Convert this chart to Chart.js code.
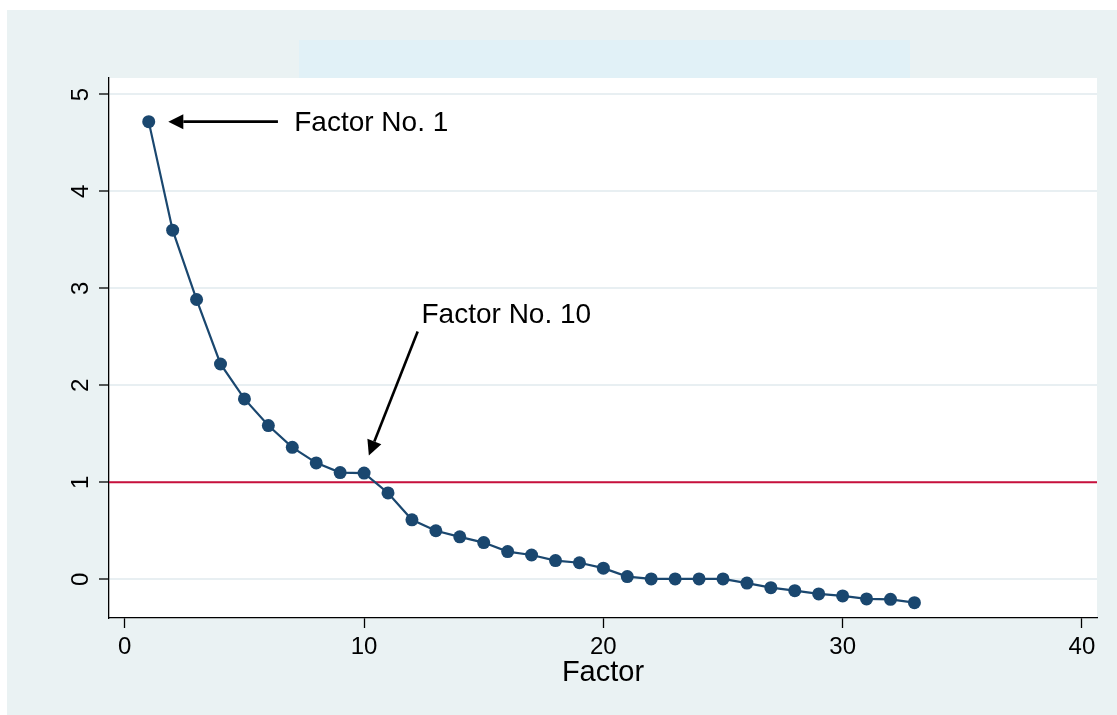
<!DOCTYPE html>
<html>
<head>
<meta charset="utf-8">
<title>Scree plot</title>
<script src="https://cdn.jsdelivr.net/npm/chart.js@4.4.1/dist/chart.umd.min.js"></script>
<style>
  html, body { margin:0; padding:0; background:#fff; }
  #wrap { width:1117px; height:715px; }
</style>
</head>
<body>
<div id="wrap"><canvas id="scree" width="1117" height="715"></canvas></div>
<script>
// values
const factors = [1,2,3,4,5,6,7,8,9,10,11,12,13,14,15,16,17,18,19,20,21,22,23,24,25,26,27,28,29,30,31,32,33];
const eigenvalues = [4.72,3.60,2.885,2.22,1.86,1.585,1.36,1.20,1.10,1.095,0.89,0.613,0.50,0.437,0.378,0.285,0.25,0.192,0.17,0.114,0.027,0.003,0.003,0.003,0.003,-0.04,-0.087,-0.118,-0.152,-0.172,-0.203,-0.207,-0.242];
const xTicks = [0,10,20,30,40];
const yTicks = [0,1,2,3,4,5];
const refLine = 1;
const xTitle = 'Factor';

// arrows + labels, in data units
const notes = [
  { text:'Factor No. 1',  tx:7.08, ty:4.625, from:[6.4,4.72],   to:[1.82,4.72] },
  { text:'Factor No. 10', tx:12.4, ty:2.64,  from:[12.24,2.555], to:[10.2,1.277] }
];

const FONT = '"Liberation Sans", Arial, Helvetica, sans-serif';
const NAVY = '#1a476f';

const backdrop = {
  id:'backdrop',
  beforeDraw(chart){
    const {ctx, chartArea:a} = chart;
    ctx.save();
    ctx.fillStyle = '#eaf2f3';
    ctx.fillRect(7, 10, 1110, 705);
    ctx.fillStyle = '#e1f1f7';   // empty title box
    ctx.fillRect(299, 40, 611, 39);
    ctx.fillStyle = '#fff';
    ctx.fillRect(a.left, a.top, a.right - a.left, a.bottom - a.top);
    ctx.restore();
  }
};

const extras = {
  id:'extras',
  beforeDatasetsDraw(chart){
    const {ctx, chartArea:a, scales:{y}} = chart;
    const py = y.getPixelForValue(refLine);
    ctx.save();
    ctx.strokeStyle = '#c8103c';
    ctx.lineWidth = 2;
    ctx.beginPath(); ctx.moveTo(a.left, py); ctx.lineTo(a.right, py); ctx.stroke();
    ctx.restore();
  },
  afterDraw(chart){
    const {ctx, scales:{x, y}} = chart;
    ctx.save();
    // rotated y tick labels
    ctx.fillStyle = '#000';
    ctx.font = '24px ' + FONT;
    ctx.textAlign = 'center';
    ctx.textBaseline = 'middle';
    yTicks.forEach(v=>{
      ctx.save();
      ctx.translate(81, y.getPixelForValue(v));
      ctx.rotate(-Math.PI/2);
      ctx.fillText(String(v), 0, 0);
      ctx.restore();
    });
    // annotations
    notes.forEach(n=>{
      const x1 = x.getPixelForValue(n.from[0]), y1 = y.getPixelForValue(n.from[1]);
      const x2 = x.getPixelForValue(n.to[0]),   y2 = y.getPixelForValue(n.to[1]);
      const ang = Math.atan2(y2 - y1, x2 - x1);
      const head = 15, half = 7.5;
      const bx = x2 - head*Math.cos(ang), by = y2 - head*Math.sin(ang);
      ctx.strokeStyle = '#000'; ctx.lineWidth = 2.6;
      ctx.beginPath(); ctx.moveTo(x1, y1); ctx.lineTo(bx, by); ctx.stroke();
      ctx.fillStyle = '#000';
      ctx.beginPath();
      ctx.moveTo(x2, y2);
      ctx.lineTo(bx + half*Math.sin(ang), by - half*Math.cos(ang));
      ctx.lineTo(bx - half*Math.sin(ang), by + half*Math.cos(ang));
      ctx.closePath(); ctx.fill();
      ctx.font = '28px ' + FONT;
      ctx.textAlign = 'left';
      ctx.textBaseline = 'alphabetic';
      ctx.fillText(n.text, x.getPixelForValue(n.tx), y.getPixelForValue(n.ty));
    });
    ctx.restore();
  }
};

new Chart(document.getElementById('scree'), {
  type:'scatter',
  data:{
    datasets:[{
      label:'Eigenvalues',
      data: factors.map((f,i)=>({x:f, y:eigenvalues[i]})),
      showLine:true,
      borderColor:NAVY,
      borderWidth:2.2,
      backgroundColor:NAVY,
      pointRadius:6.5,
      pointBorderWidth:0,
      pointHoverRadius:6.5,
      tension:0
    }]
  },
  options:{
    responsive:false,
    animation:false,
    layout:{ padding:{ left:0, top:78, right:20, bottom:0 } },
    plugins:{ legend:{display:false}, tooltip:{enabled:false} },
    scales:{
      x:{
        type:'linear', min:-0.66, max:40.63,
        afterBuildTicks: s => { s.ticks = xTicks.map(v=>({value:v})); },
        afterFit: s => { s.height = 97; },
        grid:{ drawOnChartArea:false, drawTicks:true, tickLength:10, tickColor:'#000', tickWidth:1.3 },
        border:{ display:true, color:'#000', width:1.3 },
        ticks:{ color:'#000', font:{ family:FONT, size:24 }, padding:5, maxRotation:0 },
        title:{ display:true, text:xTitle, color:'#000', font:{ family:FONT, size:29 }, padding:{top:0, bottom:25} }
      },
      y:{
        type:'linear', min:-0.40, max:5.17,
        afterBuildTicks: s => { s.ticks = yTicks.map(v=>({value:v})); },
        afterFit: s => { s.width = 109; },
        grid:{ color:'#e8eff2', lineWidth:2, drawTicks:true, tickLength:10, tickColor:'#000', tickWidth:1.3 },
        border:{ display:true, color:'#000', width:1.3 },
        ticks:{ display:false }
      }
    }
  },
  plugins:[backdrop, extras]
});
</script>
</body>
</html>
